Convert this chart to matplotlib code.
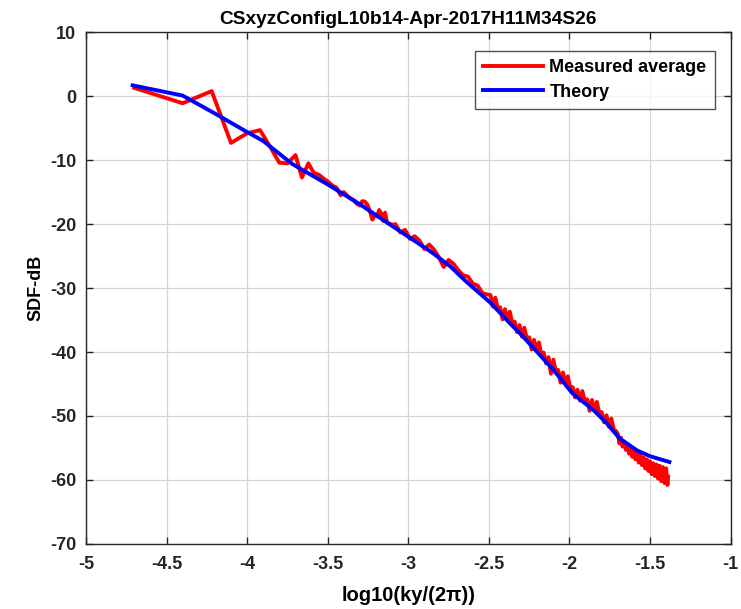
import matplotlib
matplotlib.use("Agg")
import matplotlib.pyplot as plt

plt.rcParams['font.family'] = ['Liberation Sans', 'DejaVu Sans']
plt.rcParams['font.weight'] = 'bold'
plt.rcParams['axes.unicode_minus'] = False

title = "CSxyzConfigL10b14-Apr-2017H11M34S26"
xlabel = "log10(ky/(2\u03c0))"
ylabel = "SDF-dB"
xticks = [-5, -4.5, -4, -3.5, -3, -2.5, -2, -1.5, -1]
xtick_labels = ["-5", "-4.5", "-4", "-3.5", "-3", "-2.5", "-2", "-1.5", "-1"]
yticks = [-70, -60, -50, -40, -30, -20, -10, 0, 10]

# Measured average
meas_x = [-4.70, -4.40, -4.22, -4.10, -4.00, -3.92, -3.855, -3.80, -3.75, -3.70,
          -3.66, -3.62, -3.586, -3.554, -3.524, -3.496, -3.47, -3.445, -3.42, -3.40,
          -3.378, -3.358, -3.338, -3.32, -3.30, -3.285, -3.269, -3.253, -3.238, -3.223,
          -3.209, -3.195, -3.181, -3.169, -3.156, -3.144, -3.132, -3.12, -3.098,
          -3.08, -3.05, -3.02, -2.99, -2.96, -2.93, -2.90, -2.87, -2.84, -2.81,
          -2.78, -2.75, -2.72, -2.69, -2.66, -2.63, -2.60, -2.57, -2.54, -2.51,
          -2.490, -2.475, -2.460, -2.445, -2.430, -2.415, -2.400, -2.385, -2.370, -2.355,
          -2.340, -2.325, -2.310, -2.295, -2.280, -2.265, -2.250, -2.235, -2.220, -2.205,
          -2.190, -2.175, -2.160, -2.145, -2.130, -2.115, -2.100, -2.085, -2.070, -2.055,
          -2.040, -2.025, -2.010, -1.995, -1.980, -1.965, -1.950, -1.935, -1.920, -1.905,
          -1.890, -1.875, -1.860, -1.845, -1.830, -1.815, -1.800, -1.785, -1.770, -1.755,
          -1.740, -1.725, -1.710,
          -1.700, -1.690, -1.680, -1.670, -1.660, -1.650, -1.640, -1.630, -1.620, -1.610,
          -1.600, -1.590, -1.580, -1.570, -1.560, -1.550, -1.540, -1.530, -1.520, -1.510,
          -1.500, -1.490, -1.480, -1.470, -1.460, -1.450, -1.440, -1.430, -1.420, -1.410,
          -1.400, -1.392, -1.388]
meas_y = [1.3, -1.1, 0.8, -7.3, -5.8, -5.3, -8.0, -10.4, -10.5, -9.2,
          -12.7, -10.5, -12.0, -12.3, -12.9, -13.4, -14.0, -14.3, -15.5, -15.0,
          -15.6, -16.0, -16.3, -16.8, -17.1, -16.4, -16.5, -17.0, -18.0, -19.3,
          -18.5, -18.8, -17.8, -18.3, -19.5, -18.2, -19.7, -19.9, -20.1,
          -20.0, -21.3, -20.9, -22.3, -21.9, -22.6, -23.9, -23.2, -24.0, -25.2,
          -26.7, -25.6, -26.2, -27.2, -28.0, -28.2, -29.3, -29.6, -30.8, -31.0,
          -31.1, -32.9, -31.5, -33.2, -33.0, -34.9, -33.3, -35.0, -33.7, -35.5,
          -35.25, -36.9, -35.8, -37.6, -36.2, -37.9, -37.7, -39.6, -38.1, -39.8,
          -38.5, -40.3, -40.1, -41.8, -40.8, -43.4, -41.2, -43.0, -42.8, -44.8,
          -43.2, -45.0, -43.8, -45.6, -45.5, -47.1, -45.9, -47.6, -46.1, -47.7,
          -47.4, -49.2, -47.5, -49.1, -47.8, -49.6, -49.4, -51.0, -49.9, -51.7,
          -50.4, -52.1, -52.4,
          -52.8, -54.3, -53.4, -54.8, -54.0, -55.3, -54.4, -55.9, -54.9, -56.4,
          -55.3, -56.8, -55.5, -57.3, -56.0, -57.7, -56.5, -58.2, -56.8, -58.6,
          -57.1, -59.1, -57.4, -59.4, -57.6, -59.8, -57.8, -60.2, -58.0, -60.5,
          -58.2, -60.8, -59.5]

# Theory
theory_x = [-4.71, -4.40, -4.20, -4.00, -3.90, -3.72, -3.50, -3.30, -3.10, -2.95,
            -2.85, -2.74, -2.64, -2.49, -2.37, -2.31, -2.20, -2.10, -1.98, -1.85,
            -1.77, -1.69, -1.58, -1.50, -1.38]
theory_y = [1.7, 0.1, -2.7, -5.6, -7.0, -10.6, -13.8, -16.9, -20.3, -22.8,
            -24.5, -26.6, -29.0, -32.3, -35.5, -37.0, -40.0, -42.8, -46.5, -49.1,
            -51.1, -53.5, -55.4, -56.3, -57.2]

fig = plt.figure(figsize=(7.41, 6.09), dpi=100)
ax = fig.add_axes([0.116, 0.107, 0.870, 0.840])

ax.plot(meas_x, meas_y, color='#ff0000', lw=2.8, label='Measured average')
ax.plot(theory_x, theory_y, color='#0000ff', lw=2.8, label='Theory')

ax.set_xlim(-5, -1)
ax.set_ylim(-70, 10)
ax.set_xticks(xticks)
ax.set_xticklabels(xtick_labels)
ax.set_yticks(yticks)
ax.grid(True, color='#d4d4d4', lw=0.9)
ax.set_axisbelow(True)
ax.tick_params(direction='in', top=True, right=True, length=5, width=1,
               labelsize=13, colors='#262626')
ax.tick_params(axis='x', pad=9)
ax.tick_params(axis='y', pad=7)
for lab in ax.get_xticklabels() + ax.get_yticklabels():
    lab.set_fontweight('bold')
for s in ax.spines.values():
    s.set_color('#262626')
    s.set_linewidth(1.0)

ax.set_title(title, fontsize=13.8, fontweight='bold', pad=6)
ax.set_xlabel(xlabel, fontsize=14.5, fontweight='bold', labelpad=9)
ax.set_ylabel(ylabel, fontsize=13, fontweight='bold', labelpad=4)

leg = ax.legend(loc='upper right', bbox_to_anchor=(0.975, 0.963), fontsize=13,
                frameon=True, fancybox=False, edgecolor='#262626',
                handlelength=3.3, borderpad=0.45, labelspacing=0.4,
                handletextpad=0.35, borderaxespad=0.0)
leg.get_frame().set_linewidth(1.0)
for t in leg.get_texts():
    t.set_fontweight('bold')

fig.savefig('out.png', dpi=100, facecolor='white')
